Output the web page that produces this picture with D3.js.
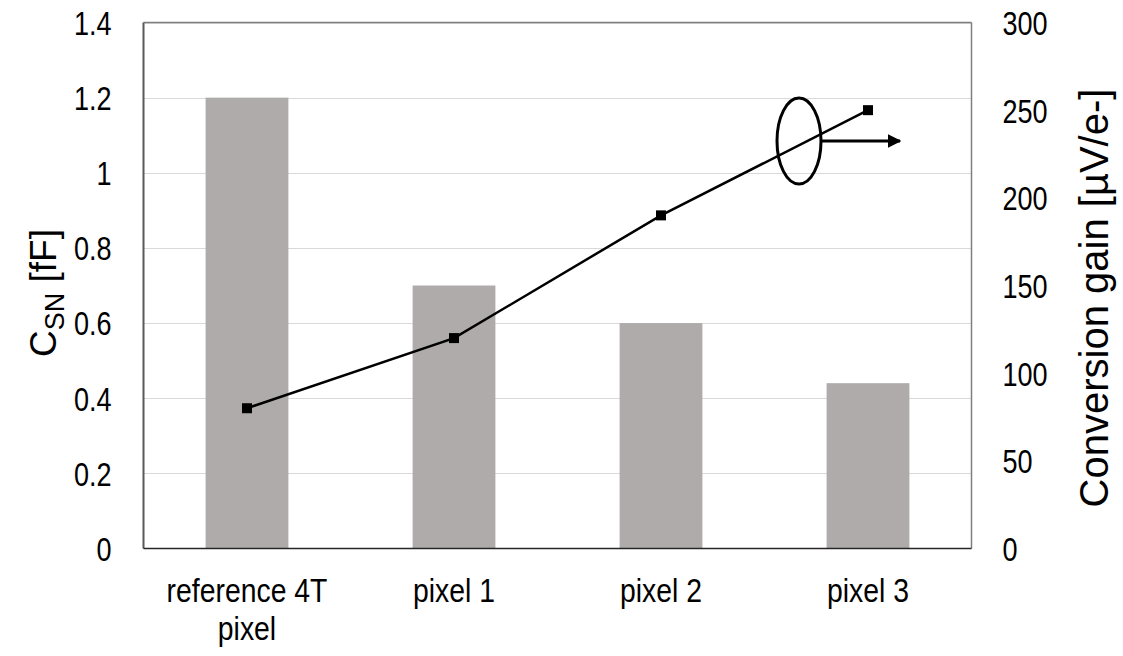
<!DOCTYPE html>
<html>
<head>
<meta charset="utf-8">
<script src="https://cdn.jsdelivr.net/npm/d3@7"></script>
<style>
  html, body { margin: 0; padding: 0; background: #fff; }
  svg { display: block; }
  text { font-family: "Liberation Sans", Arial, sans-serif; fill: #000; }
</style>
</head>
<body>
<svg id="chart" width="1123" height="656"></svg>
<script>
// Pixel variants
const categories = [["reference 4T", "pixel"], ["pixel 1"], ["pixel 2"], ["pixel 3"]];
const categoryKeys = ["ref", "p1", "p2", "p3"];
// Sense-node capacitance, fF (bars, left axis)
const csnValues = [1.2, 0.7, 0.6, 0.44];
// Conversion gain, µV/e- (line, right axis)
const gainValues = [80, 120, 190, 250];
const leftTicks = [0, 0.2, 0.4, 0.6, 0.8, 1, 1.2, 1.4];
const rightTicks = [0, 50, 100, 150, 200, 250, 300];

// condensed look: horizontal squeeze applied to label text
const NARROW = 0.82;
const NARROW_CAT = 0.86;

const svg = d3.select("#chart");
const plot = { left: 143.5, right: 971.5, top: 22.5, bottom: 548.5 };

const x = d3.scaleBand().domain(categoryKeys).range([plot.left, plot.right]).paddingInner(0.6).paddingOuter(0.3);
const yL = d3.scaleLinear().domain([0, 1.4]).range([plot.bottom, plot.top]);
const yR = d3.scaleLinear().domain([0, 300]).range([plot.bottom, plot.top]);

// gridlines
svg.append("g").selectAll("line").data(leftTicks.slice(1))
  .join("line")
  .attr("x1", plot.left).attr("x2", plot.right)
  .attr("y1", d => Math.round(yL(d)) + 0.5).attr("y2", d => Math.round(yL(d)) + 0.5)
  .attr("stroke", "#d9d9d9").attr("stroke-width", 1);

// bars
svg.append("g").selectAll("rect").data(csnValues)
  .join("rect")
  .attr("x", (d, i) => x(categoryKeys[i]))
  .attr("width", x.bandwidth())
  .attr("y", d => yL(d))
  .attr("height", d => plot.bottom - yL(d))
  .attr("fill", "#afabab");

// frame
svg.append("line").attr("x1", plot.left).attr("x2", plot.right).attr("y1", plot.top).attr("y2", plot.top)
  .attr("stroke", "#7f7f7f").attr("stroke-width", 1.5);
svg.append("line").attr("x1", plot.right).attr("x2", plot.right).attr("y1", plot.top).attr("y2", plot.bottom)
  .attr("stroke", "#7f7f7f").attr("stroke-width", 1.5);
svg.append("line").attr("x1", plot.left).attr("x2", plot.left).attr("y1", plot.top).attr("y2", plot.bottom)
  .attr("stroke", "#595959").attr("stroke-width", 2);
svg.append("line").attr("x1", plot.left).attr("x2", plot.right).attr("y1", plot.bottom).attr("y2", plot.bottom)
  .attr("stroke", "#262626").attr("stroke-width", 1.5);

// left axis
const padL = 32, padR = 31;
const axL = svg.append("g").attr("transform", `translate(${plot.left},0)`)
  .call(d3.axisLeft(yL).tickValues(leftTicks).tickSize(0).tickPadding(padL).tickFormat(d3.format("~g")));
axL.select(".domain").remove();
axL.selectAll("text").style("font-size", "33px").attr("dy", "0.36em")
  .attr("x", -padL / NARROW).attr("transform", `scale(${NARROW},1)`);

// right axis
const axR = svg.append("g").attr("transform", `translate(${plot.right},0)`)
  .call(d3.axisRight(yR).tickValues(rightTicks).tickSize(0).tickPadding(padR));
axR.select(".domain").remove();
axR.selectAll("text").style("font-size", "33px").attr("dy", "0.36em")
  .attr("x", padR / NARROW).attr("transform", `scale(${NARROW},1)`);

// category labels
const catG = svg.append("g");
categories.forEach((lines, i) => {
  const cxp = x(categoryKeys[i]) + x.bandwidth() / 2;
  const t = catG.append("text")
    .attr("transform", `translate(${cxp},602) scale(${NARROW_CAT},1)`)
    .attr("text-anchor", "middle")
    .style("font-size", "33px");
  lines.forEach((ln, j) => {
    t.append("tspan").attr("x", 0).attr("dy", j === 0 ? 0 : 38).text(ln);
  });
});

// axis titles
const lt = svg.append("text")
  .attr("transform", `translate(56,293) rotate(-90)`)
  .attr("text-anchor", "middle")
  .style("font-size", "37px");
lt.append("tspan").text("C");
lt.append("tspan").attr("dy", 8).style("font-size", "27px").text("SN");
lt.append("tspan").attr("dy", -8).text(" [fF]");

svg.append("text")
  .attr("transform", `translate(1108,298) rotate(-90)`)
  .attr("text-anchor", "middle")
  .style("font-size", "40px")
  .text("Conversion gain [µV/e-]");

// conversion gain line
const cx = i => x(categoryKeys[i]) + x.bandwidth() / 2;
svg.append("path")
  .datum(gainValues)
  .attr("d", d3.line().x((d, i) => cx(i)).y(d => yR(d)))
  .attr("fill", "none").attr("stroke", "#000").attr("stroke-width", 2.5);
svg.append("g").selectAll("rect").data(gainValues)
  .join("rect")
  .attr("x", (d, i) => cx(i) - 5).attr("y", d => yR(d) - 5)
  .attr("width", 10).attr("height", 10).attr("fill", "#000");

// series callout: ellipse with arrow toward the right axis
svg.append("defs").append("marker")
  .attr("id", "arrowhead").attr("viewBox", "0 0 10 10")
  .attr("refX", 9).attr("refY", 5)
  .attr("markerWidth", 4.5).attr("markerHeight", 4.5)
  .attr("markerUnits", "strokeWidth").attr("orient", "auto")
  .append("path").attr("d", "M0,0 L10,5 L0,10 Z").attr("fill", "#000");
svg.append("ellipse")
  .attr("cx", 799).attr("cy", 141).attr("rx", 22).attr("ry", 43)
  .attr("fill", "none").attr("stroke", "#000").attr("stroke-width", 3);
svg.append("line")
  .attr("x1", 821).attr("y1", 141).attr("x2", 900).attr("y2", 141)
  .attr("stroke", "#000").attr("stroke-width", 3)
  .attr("marker-end", "url(#arrowhead)");
</script>
</body>
</html>
